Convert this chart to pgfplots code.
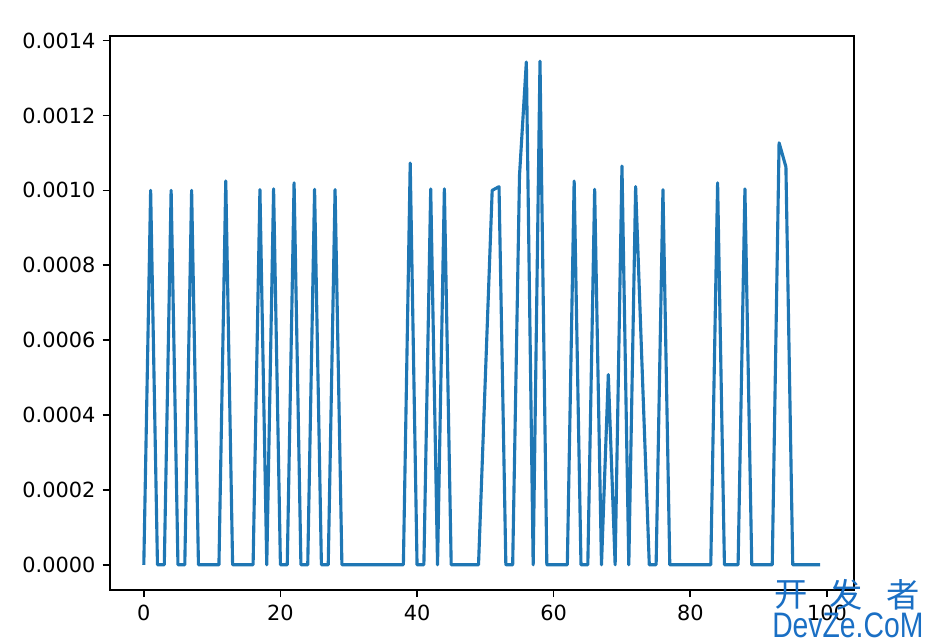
\documentclass[border=0pt]{standalone}
\usepackage{fontspec}
\setmainfont{DejaVu Sans}
\newfontfamily\cjk{Noto Sans CJK SC}
\newfontfamily\wm{Liberation Sans}
\usepackage{pgfplots}
\pgfplotsset{compat=1.18}
\definecolor{mplblue}{HTML}{1F77B4}
\definecolor{wmblue}{HTML}{1A6FC4}
\begin{document}
\begin{tikzpicture}
\useasboundingbox (-52.8pt,-25.9pt) rectangle (394.6pt,283.2pt);
\begin{axis}[
  at={(0,0)}, anchor=south west,
  scale only axis,
  width=357.1pt, height=265.9pt,
  xmin=-4.95, xmax=103.95,
  ymin=-0.00006725, ymax=0.00141225,
  xtick={0,20,40,60,80,100},
  ytick={0,0.0002,0.0004,0.0006,0.0008,0.0010,0.0012,0.0014},
  scaled y ticks=false,
  yticklabel style={/pgf/number format/.cd, fixed, fixed zerofill, precision=4},
  /pgf/number format/assume math mode=true,
  tick align=outside,
  major tick length=3.5pt,
  every tick/.style={black, line width=0.8pt},
  axis line style={black, line width=0.8pt},
  xtick pos=bottom, ytick pos=left,
  tick label style={font=\fontsize{10}{12}\selectfont, black},
  clip=false,
]
\addplot[mplblue, line width=1.5pt, line join=round, no marks] coordinates {
(0,0) (1,0.001) (2,0) (3,0) (4,0.001) (5,0) (6,0) (7,0.001) (8,0) (9,0)
(10,0) (11,0) (12,0.001025) (13,0) (14,0) (15,0) (16,0) (17,0.001002) (18,0) (19,0.001004)
(20,0) (21,0) (22,0.00102) (23,0) (24,0) (25,0.001003) (26,0) (27,0) (28,0.001002) (29,0)
(30,0) (31,0) (32,0) (33,0) (34,0) (35,0) (36,0) (37,0) (38,0) (39,0.001073)
(40,0) (41,0) (42,0.001004) (43,0) (44,0.001004) (45,0) (46,0) (47,0) (48,0) (49,0)
(50,0.0005) (51,0.001) (52,0.00101) (53,0) (54,0) (55,0.00104) (56,0.001343) (57,0) (58,0.001345) (59,0)
(60,0) (61,0) (62,0) (63,0.001025) (64,0) (65,0) (66,0.001003) (67,0) (68,0.000508) (69,0)
(70,0.001065) (71,0) (72,0.00101) (73,0.0005) (74,0) (75,0) (76,0.001002) (77,0) (78,0) (79,0)
(80,0) (81,0) (82,0) (83,0) (84,0.00102) (85,0) (86,0) (87,0) (88,0.001004) (89,0)
(90,0) (91,0) (92,0) (93,0.001127) (94,0.001063) (95,0) (96,0) (97,0) (98,0) (99,0)
};
\end{axis}
\node[wmblue, font=\cjk\fontsize{16}{16}\selectfont] at (326.9pt,-2.4pt) {开};
\node[wmblue, font=\cjk\fontsize{16}{16}\selectfont] at (353.3pt,-2.4pt) {发};
\node[wmblue, font=\cjk\fontsize{16}{16}\selectfont] at (380.6pt,-2.4pt) {者};
\node[wmblue, font=\wm\fontsize{17}{17}\selectfont, xscale=0.8, inner sep=0pt] at (354.2pt,-16.8pt) {DevZe.CoM};
\end{tikzpicture}
\end{document}
